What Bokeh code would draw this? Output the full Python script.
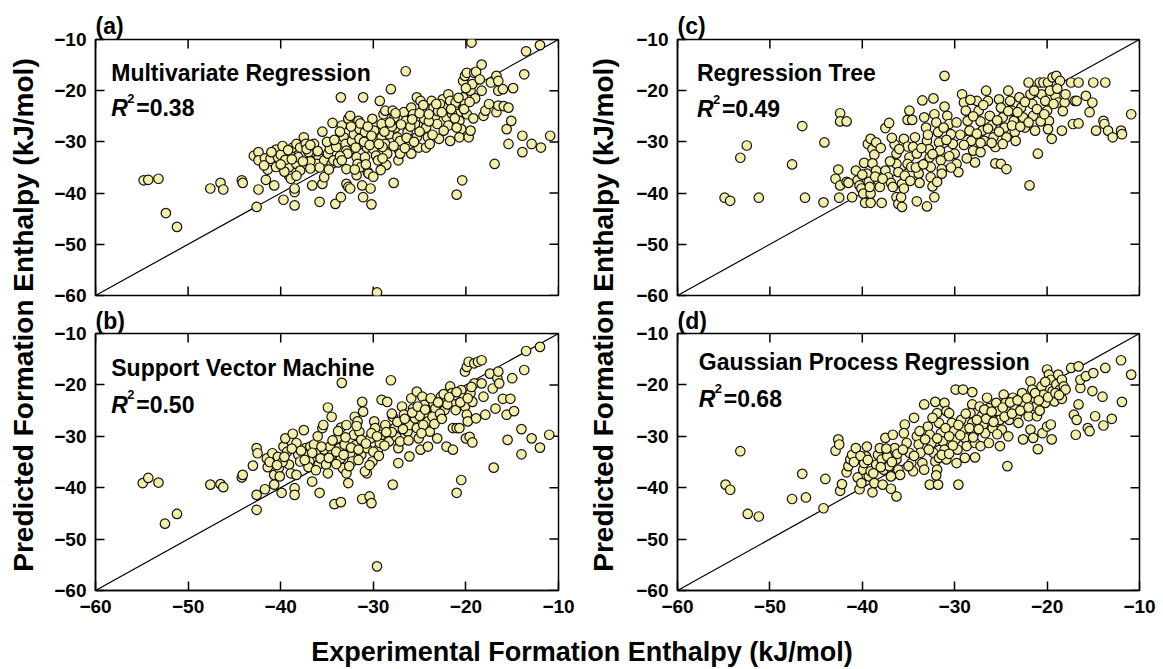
from math import pi
from bokeh.plotting import figure
from bokeh.models import Range1d, FixedTicker, Label
from bokeh.layouts import row, column
from bokeh.core.properties import value
from bokeh.embed import file_html
from bokeh.resources import INLINE

FONT = "Liberation Sans"

# ---------------- data (experimental, predicted) ----------------
ticks = [-60, -50, -40, -30, -20, -10]
diag = [-60, -10]

mr_points = [
    (-54.8,-37.5), (-54.3,-37.4), (-53.2,-37.2), (-52.4,-43.9), (-51.2,-46.6),
    (-47.6,-39.1), (-46.5,-38.0), (-46.2,-39.3), (-44.2,-37.5), (-44.1,-38.0),
    (-42.6,-42.7), (-42.9,-32.7), (-42.4,-32.0), (-42.4,-33.6), (-41.7,-33.2), (-41.1,-33.3),
    (-42.4,-39.3), (-41.6,-37.4), (-40.7,-38.5), (-41.4,-35.4), (-40.5,-34.9), (-40.3,-33.0),
    (-39.7,-41.3), (-39.1,-36.6), (-39.1,-34.9), (-38.9,-37.2), (-39.0,-32.0), (-38.7,-31.1), (-38.3,-30.4), (-37.9,-31.1),
    (-38.5,-42.4), (-38.5,-39.8), (-38.5,-39.1), (-38.3,-34.3), (-38.1,-33.0), (-37.5,-29.1), (-37.3,-30.4), (-37.9,-35.6), (-38.3,-36.6),
    (-36.6,-38.5), (-36.4,-32.0), (-35.9,-33.0), (-36.1,-34.3), (-36.4,-30.4), (-35.8,-41.7), (-35.5,-38.2), (-35.3,-36.9), (-35.5,-28.0),
    (-35.3,-33.6), (-34.9,-32.3), (-34.7,-31.4), (-34.5,-34.3), (-34.3,-33.6), (-34.4,-26.3), (-34.1,-42.1), (-33.5,-40.8), (-33.5,-21.3),
    (-33.4,-26.8), (-33.2,-29.1), (-33.0,-30.4), (-32.9,-31.7), (-32.8,-32.3), (-32.9,-38.2), (-32.7,-38.8), (-32.5,-39.1), (-32.7,-25.5), (-32.5,-24.9), (-32.9,-35.3),
    (-32.3,-29.8), (-32.1,-28.5), (-31.9,-31.1), (-31.8,-33.0), (-31.5,-27.5), (-31.5,-29.4), (-31.7,-34.3), (-31.3,-34.9), (-31.6,-25.9),
    (-31.1,-21.3), (-31.2,-38.5), (-31.1,-40.8), (-30.9,-28.1), (-30.7,-31.1), (-30.9,-33.0), (-30.6,-35.9), (-30.5,-36.2), (-30.3,-39.1), (-30.2,-42.2),
    (-30.1,-25.5), (-29.9,-27.8), (-29.8,-29.8), (-30.0,-31.4), (-29.7,-32.7), (-29.5,-33.6), (-29.6,-59.4), (-29.3,-22.0),
    (-29.1,-26.5), (-28.9,-24.6), (-28.7,-23.9), (-29.1,-29.1), (-28.7,-30.4), (-28.5,-32.3), (-28.3,-28.5), (-28.1,-19.7), (-27.8,-38.0),
    (-27.9,-23.9), (-27.7,-25.2), (-27.6,-27.2), (-27.4,-29.1), (-27.3,-31.4), (-27.3,-33.6), (-27.1,-32.3), (-27.1,-29.8),
    (-26.7,-24.2), (-26.5,-25.9), (-26.3,-28.1), (-26.1,-30.4), (-25.9,-32.3), (-26.5,-16.2),
    (-25.9,-23.3), (-25.7,-24.6), (-25.5,-26.5), (-25.3,-29.1), (-25.1,-31.1), (-25.3,-21.3), (-24.9,-22.0),
    (-24.7,-23.9), (-24.5,-25.5), (-24.3,-27.2), (-24.1,-29.1), (-24.3,-31.1), (-23.9,-30.4),
    (-23.7,-22.0), (-23.5,-23.3), (-23.3,-24.9), (-23.1,-26.5), (-22.9,-29.4),
    (-22.5,-21.7), (-22.3,-23.3), (-22.1,-25.2), (-21.9,-26.8), (-21.9,-20.7), (-21.7,-22.0), (-21.7,-29.8),
    (-21.3,-23.3), (-21.1,-22.3), (-20.9,-24.6), (-20.7,-25.9), (-20.5,-27.5), (-21.0,-40.3), (-20.4,-37.5), (-20.7,-29.1),
    (-20.3,-18.1), (-20.1,-17.1), (-19.9,-16.5), (-20.3,-21.3), (-20.1,-22.6), (-19.9,-24.6), (-19.7,-29.1), (-19.5,-27.8), (-19.4,-10.6),
    (-19.5,-20.0), (-19.3,-18.7), (-19.1,-16.5), (-18.9,-16.3), (-18.3,-14.9), (-18.5,-17.8), (-18.1,-24.9), (-17.9,-23.9), (-18.3,-20.0),
    (-17.3,-18.4), (-17.5,-22.6), (-16.9,-34.3), (-16.7,-17.1), (-16.5,-18.1), (-16.5,-20.0), (-16.7,-24.2), (-16.5,-22.9),
    (-16.0,-19.7), (-15.9,-23.0), (-15.6,-27.5), (-15.4,-30.4), (-15.4,-23.3), (-15.1,-25.9), (-14.9,-19.5),
    (-13.9,-28.8), (-13.9,-32.0), (-13.7,-16.8), (-13.5,-12.3), (-12.9,-30.4), (-12.0,-11.1), (-11.9,-31.1), (-10.9,-28.8),
    (-40.5,-31.5), (-40.0,-32.5), (-39.5,-33.5), (-37.0,-32.0), (-36.8,-33.8), (-34.0,-31.0), (-33.8,-34.0),
    (-31.0,-30.0), (-30.4,-30.6), (-29.0,-31.0), (-28.0,-27.0), (-26.0,-27.0), (-25.0,-28.0), (-24.0,-26.0),
    (-23.0,-24.0), (-22.8,-22.6), (-20.0,-19.5), (-19.0,-21.5), (-21.5,-24.5), (-28.6,-34.5), (-29.2,-35.5),
    (-30.0,-36.8), (-31.8,-36.5), (-33.6,-32.8), (-35.8,-35.0), (-37.6,-33.8), (-39.6,-35.8),
    (-41.0,-32.0), (-39.8,-30.8), (-39.2,-31.6), (-37.2,-31.4), (-36.8,-30.6), (-36.0,-31.8), (-35.0,-30.0),
    (-34.2,-29.6), (-33.6,-28.0), (-32.4,-27.0), (-31.4,-26.4), (-30.6,-27.0), (-30.2,-28.8), (-29.4,-30.4),
    (-28.8,-28.0), (-28.2,-26.2), (-27.6,-24.4), (-27.0,-26.6), (-26.4,-29.2), (-25.8,-25.6), (-25.0,-24.4),
    (-24.6,-22.8), (-24.0,-24.6), (-23.2,-22.6), (-22.6,-24.2), (-21.6,-23.6), (-21.2,-25.4), (-20.8,-21.4),
    (-20.2,-23.6), (-19.6,-22.2), (-30.8,-34.4), (-32.0,-35.4), (-33.4,-33.6), (-34.8,-35.4), (-36.8,-35.2),
    (-38.8,-33.4), (-40.0,-34.4), (-41.8,-34.6), (-29.0,-33.2), (-27.8,-30.8), (-26.6,-31.2), (-25.6,-30.0),
    (-22.4,-27.8), (-23.6,-28.6), (-21.0,-27.2), (-19.2,-25.4),
]

svm_points = [
    (-54.9,-39.1), (-54.3,-38.1), (-53.2,-39.0), (-52.5,-47.0), (-51.2,-45.1), (-47.6,-39.4), (-46.5,-39.3), (-46.2,-39.9),
    (-44.2,-38.0), (-44.1,-37.5), (-43.0,-35.7), (-42.6,-32.3), (-42.5,-33.3), (-42.6,-41.4), (-42.6,-44.3), (-41.7,-40.3),
    (-41.5,-34.3), (-41.4,-36.0), (-40.9,-33.3), (-40.7,-37.5), (-40.7,-39.4), (-40.3,-34.0), (-40.2,-36.2), (-40.1,-37.8),
    (-39.9,-41.0), (-39.7,-32.0), (-39.5,-30.4), (-39.3,-33.0), (-39.1,-35.5), (-38.9,-37.2), (-38.7,-29.5), (-38.5,-40.1),
    (-38.5,-41.4), (-38.3,-37.5), (-38.3,-31.3), (-38.1,-33.6), (-37.9,-34.9), (-37.5,-28.8), (-37.3,-32.3), (-37.1,-33.6),
    (-36.9,-34.9), (-36.8,-32.0), (-36.6,-38.8), (-36.4,-31.6), (-36.1,-33.3), (-35.9,-35.5), (-35.7,-34.3), (-35.8,-41.0),
    (-35.5,-28.4), (-35.4,-27.8), (-35.3,-32.6), (-35.1,-35.5), (-34.9,-37.2), (-34.7,-32.0), (-34.5,-33.6), (-34.9,-24.4),
    (-34.5,-26.2), (-34.2,-43.2), (-33.5,-42.8), (-33.9,-30.4), (-33.7,-32.3), (-33.5,-34.3), (-33.3,-36.2), (-33.1,-31.6),
    (-33.4,-19.6), (-33.5,-28.3), (-32.9,-27.8), (-32.9,-37.2), (-32.7,-39.1), (-32.5,-33.3), (-32.3,-34.9), (-32.1,-29.7),
    (-31.9,-31.7), (-32.0,-26.2), (-31.7,-27.1), (-31.5,-29.1), (-31.3,-33.6), (-31.3,-30.7), (-31.2,-23.3), (-31.1,-25.2),
    (-31.2,-42.2), (-30.7,-37.2), (-30.9,-36.8), (-30.4,-41.7), (-30.2,-43.0), (-30.7,-32.3), (-30.3,-30.4), (-30.1,-34.9),
    (-29.9,-27.1), (-29.8,-28.4), (-29.6,-55.3), (-29.5,-32.6), (-29.3,-31.3), (-29.1,-22.9), (-29.1,-29.7), (-28.7,-27.8),
    (-28.5,-23.3), (-28.3,-31.0), (-28.1,-19.1), (-27.9,-39.4), (-27.9,-26.2), (-27.7,-28.4), (-27.5,-30.1), (-27.3,-32.3),
    (-27.3,-35.2), (-27.1,-31.0), (-26.9,-24.2), (-26.7,-25.8), (-26.5,-27.1), (-26.3,-29.1), (-26.1,-27.8), (-26.1,-33.9),
    (-25.9,-22.6), (-25.7,-24.6), (-25.5,-26.5), (-25.3,-28.4), (-25.1,-30.4), (-24.9,-32.6), (-25.3,-21.3), (-24.7,-22.3),
    (-24.5,-23.9), (-24.3,-25.5), (-24.1,-27.1), (-23.9,-29.1), (-24.1,-32.0), (-23.5,-23.6), (-23.3,-24.6), (-23.1,-30.4),
    (-22.7,-22.3), (-22.5,-23.6), (-22.3,-24.9), (-22.1,-22.6), (-22.1,-32.0), (-21.4,-32.6), (-21.7,-20.3), (-21.5,-21.6),
    (-21.3,-23.3), (-21.1,-24.9), (-21.4,-28.4), (-21.0,-28.4), (-20.7,-28.4), (-21.0,-41.0), (-20.5,-38.5), (-20.5,-21.0),
    (-20.3,-22.6), (-20.1,-24.2), (-19.9,-25.8), (-19.8,-27.1), (-20.1,-17.4), (-19.9,-16.5), (-19.7,-15.5), (-20.0,-30.4),
    (-19.6,-30.1), (-19.3,-31.2), (-19.5,-21.6), (-19.3,-23.3), (-19.1,-19.7), (-19.1,-15.8), (-18.7,-15.5), (-18.3,-15.2),
    (-18.9,-26.5), (-18.3,-19.7), (-18.1,-22.3), (-17.9,-25.8), (-17.4,-17.8), (-17.0,-36.1), (-17.1,-20.7), (-16.8,-24.6),
    (-16.6,-18.7), (-16.5,-17.4), (-16.4,-19.7), (-15.5,-30.7), (-15.6,-25.8), (-16.0,-22.7), (-15.2,-22.7), (-15.0,-18.7),
    (-14.8,-25.1), (-14.0,-28.6), (-14.0,-33.5), (-13.7,-17.1), (-13.5,-13.4), (-12.9,-30.4), (-12.0,-12.6), (-12.0,-32.2),
    (-11.0,-29.7),
    (-39.8,-35.0), (-37.0,-36.0), (-36.2,-36.6), (-34.0,-35.4), (-32.6,-35.8), (-31.6,-34.6), (-30.0,-33.0), (-28.8,-31.8),
    (-28.0,-29.2), (-26.8,-28.6), (-25.0,-26.0), (-24.6,-27.8), (-23.6,-26.2), (-22.8,-25.6), (-22.0,-23.8), (-21.2,-22.0),
    (-33.0,-30.2), (-34.4,-30.8), (-36.0,-30.0),
    (-41.2,-35.0), (-40.4,-35.6), (-39.6,-34.0), (-38.8,-32.4), (-37.8,-32.8), (-37.4,-34.6), (-36.6,-33.2), (-35.6,-32.0),
    (-34.8,-34.2), (-34.0,-33.0), (-33.2,-33.6), (-32.4,-32.2), (-31.6,-32.6), (-30.8,-31.4), (-30.2,-29.4), (-29.6,-30.0),
    (-28.6,-29.2), (-28.0,-25.6), (-27.4,-27.2), (-26.6,-26.6), (-25.8,-25.4), (-25.2,-24.2), (-24.4,-24.8), (-23.8,-22.6),
    (-23.0,-23.4), (-22.4,-21.8), (-21.8,-22.4), (-21.0,-21.4), (-20.6,-23.4), (-19.8,-22.6), (-19.4,-20.4), (-30.4,-35.6),
    (-29.4,-33.8), (-31.8,-28.0), (-33.8,-29.0), (-26.2,-30.8), (-24.8,-29.4), (-23.4,-27.6), (-22.6,-26.6),
]

rt_points = [
    (-54.9,-40.9), (-54.3,-41.5), (-53.2,-33.1), (-52.5,-30.7), (-51.2,-40.9), (-47.6,-34.4), (-46.5,-26.9), (-46.2,-40.9),
    (-44.2,-41.8), (-44.1,-30.1), (-42.9,-37.2), (-42.6,-35.4), (-42.5,-40.9), (-42.4,-24.4), (-42.4,-26.0), (-41.7,-26.0),
    (-42.4,-38.5), (-41.7,-37.8), (-41.5,-38.0), (-41.1,-40.8), (-40.7,-35.6), (-40.5,-37.5), (-40.3,-38.5), (-40.1,-39.1),
    (-39.9,-40.1), (-39.7,-41.9), (-39.1,-41.9), (-37.9,-41.9), (-39.8,-34.1), (-39.5,-36.2), (-39.3,-37.8), (-39.1,-40.1),
    (-39.4,-30.4), (-39.1,-29.4), (-38.9,-31.4), (-38.5,-30.1), (-38.7,-32.5), (-38.9,-34.2), (-38.5,-35.6), (-38.3,-37.5),
    (-38.1,-38.8), (-38.0,-31.2), (-37.5,-27.3), (-37.1,-26.3), (-37.5,-35.6), (-37.2,-36.9), (-36.9,-38.0), (-36.7,-38.8),
    (-36.5,-30.5), (-36.3,-32.3), (-36.3,-34.3), (-36.1,-35.9), (-36.3,-40.8), (-36.1,-42.1), (-35.8,-40.8), (-35.7,-42.7),
    (-35.7,-38.2), (-35.5,-39.1), (-35.5,-29.4), (-35.1,-30.9), (-34.9,-33.0), (-35.1,-34.3), (-34.7,-34.9), (-35.1,-25.7),
    (-34.9,-23.9), (-34.6,-25.7), (-34.5,-31.0), (-34.3,-29.1), (-34.1,-32.3), (-33.9,-36.2), (-33.8,-38.0), (-34.1,-41.6),
    (-33.5,-21.9), (-33.3,-25.2), (-33.1,-27.2), (-33.0,-29.8), (-33.0,-42.6), (-32.8,-31.4), (-32.7,-33.0), (-32.6,-34.9),
    (-32.6,-36.9), (-32.4,-38.7), (-32.3,-21.5), (-32.2,-40.8), (-32.2,-24.6), (-32.0,-26.2), (-31.8,-28.1), (-31.7,-30.1),
    (-31.6,-31.7), (-31.5,-33.6), (-31.4,-35.3), (-31.4,-36.2), (-31.1,-17.1), (-31.1,-23.1), (-30.8,-24.9), (-30.6,-26.5),
    (-30.4,-28.5), (-30.2,-30.4), (-30.0,-32.3), (-29.8,-34.3), (-29.6,-35.9), (-29.2,-20.7), (-29.0,-22.3), (-28.8,-23.9),
    (-28.6,-25.9), (-28.4,-27.8), (-28.2,-29.8), (-28.0,-31.7), (-27.8,-34.0), (-27.6,-22.0), (-27.4,-23.9), (-27.2,-26.0),
    (-27.0,-27.8), (-26.8,-29.8), (-27.2,-32.0), (-26.6,-20.0), (-26.4,-22.0), (-26.2,-24.9), (-26.0,-26.8), (-25.8,-29.1),
    (-25.6,-31.0), (-25.6,-34.2), (-25.0,-34.3), (-24.4,-35.3), (-25.2,-21.7), (-25.0,-23.3), (-24.8,-25.2), (-24.6,-27.2),
    (-24.4,-29.1), (-24.2,-20.0), (-24.0,-22.0), (-23.8,-23.9), (-23.6,-25.9), (-23.5,-28.1), (-23.4,-29.8), (-23.0,-21.3),
    (-22.8,-23.3), (-22.6,-25.2), (-22.4,-27.2), (-22.0,-18.4), (-21.8,-20.7), (-21.6,-22.6), (-21.5,-24.9), (-21.3,-27.8),
    (-21.9,-38.5), (-21.0,-32.3), (-20.8,-18.4), (-20.4,-18.4), (-19.9,-18.4), (-19.4,-17.4), (-19.0,-17.1), (-18.6,-18.1),
    (-20.6,-20.7), (-20.2,-22.0), (-20.0,-23.9), (-19.8,-25.9), (-19.9,-27.5), (-19.5,-29.4), (-19.1,-21.0), (-18.8,-22.3),
    (-18.4,-27.8), (-18.1,-22.3), (-18.0,-20.7), (-17.4,-18.4), (-16.6,-18.4), (-17.2,-26.5), (-16.6,-26.4), (-17.0,-22.0),
    (-16.8,-22.0), (-15.8,-21.0), (-15.4,-24.2), (-15.1,-22.3), (-15.0,-18.4), (-14.7,-27.8), (-13.9,-25.9), (-13.8,-26.5),
    (-13.4,-27.8), (-12.9,-29.1), (-12.0,-27.8), (-11.9,-28.5), (-13.7,-18.4), (-10.9,-24.6),
    (-40.0,-36.4), (-39.2,-38.8), (-38.6,-36.8), (-37.8,-37.2), (-37.0,-33.8), (-36.8,-29.2), (-36.0,-31.4), (-35.4,-36.6),
    (-34.8,-37.6), (-34.2,-35.0), (-33.6,-31.2), (-33.4,-34.4), (-32.9,-28.6), (-32.4,-32.4), (-31.9,-37.8), (-31.2,-27.2),
    (-30.9,-29.6), (-30.6,-32.8), (-30.4,-35.0), (-29.8,-26.2), (-29.4,-28.6), (-29.0,-30.6), (-28.7,-33.2), (-28.3,-21.8),
    (-28.0,-25.0), (-27.6,-28.4), (-27.2,-30.2), (-26.9,-22.8), (-26.4,-27.4), (-26.0,-30.2), (-25.4,-25.8), (-25.2,-28.0),
    (-24.8,-30.4), (-24.2,-24.0), (-23.8,-26.8), (-23.2,-24.2), (-22.9,-27.0), (-22.4,-22.2), (-22.0,-26.2), (-21.4,-20.0),
    (-21.1,-23.6), (-20.7,-26.0), (-20.3,-24.6), (-19.7,-20.0), (-19.3,-22.6), (-18.9,-19.6), (-18.3,-24.0),
]

gpr_points = [
    (-54.8,-39.4), (-54.3,-40.4), (-53.2,-32.9), (-52.4,-45.1), (-51.2,-45.6), (-47.6,-42.2), (-46.5,-37.3), (-46.1,-41.9),
    (-44.2,-44.0), (-44.0,-38.3), (-42.9,-32.8), (-42.6,-30.6), (-42.5,-31.6), (-42.4,-40.6), (-42.2,-39.3), (-41.7,-37.0),
    (-41.5,-35.8), (-41.3,-34.5), (-41.1,-33.6), (-40.7,-32.3), (-40.5,-38.0), (-40.3,-40.3), (-40.1,-39.1), (-39.9,-36.5),
    (-39.8,-35.2), (-39.6,-33.9), (-39.5,-32.0), (-39.3,-37.8), (-39.1,-36.8), (-38.9,-40.9), (-38.7,-39.1), (-38.5,-35.5),
    (-38.3,-33.6), (-38.1,-32.3), (-37.9,-34.5), (-37.7,-36.5), (-37.8,-39.4), (-37.5,-30.3), (-37.3,-33.9), (-37.1,-35.8),
    (-36.9,-37.8), (-36.9,-40.2), (-36.3,-41.7), (-36.7,-29.7), (-36.5,-32.3), (-36.3,-34.5), (-36.1,-36.5), (-35.9,-37.5),
    (-35.4,-27.7), (-35.5,-29.4), (-35.2,-31.3), (-34.9,-33.2), (-34.7,-35.2), (-34.5,-36.8), (-34.4,-26.4), (-34.1,-30.0),
    (-33.9,-31.6), (-33.7,-33.2), (-33.5,-35.2), (-33.3,-36.5), (-33.3,-23.8), (-32.9,-28.1), (-32.7,-29.7), (-32.5,-31.3),
    (-32.3,-33.2), (-32.1,-34.9), (-31.9,-36.5), (-31.7,-34.2), (-32.7,-39.4), (-31.8,-39.4), (-32.1,-23.3), (-31.9,-25.5),
    (-31.7,-27.4), (-31.5,-29.4), (-31.3,-31.0), (-31.1,-32.6), (-30.9,-34.5), (-31.1,-23.5), (-30.9,-25.1), (-30.6,-25.5),
    (-30.3,-27.4), (-30.1,-29.0), (-29.9,-30.6), (-29.7,-32.6), (-29.8,-35.2), (-29.9,-20.9), (-29.1,-20.9), (-29.6,-39.4),
    (-29.3,-26.8), (-29.1,-28.7), (-28.9,-30.3), (-28.7,-31.9), (-28.9,-34.2), (-28.1,-21.4), (-28.1,-23.8), (-28.3,-25.5),
    (-28.1,-27.4), (-27.9,-29.4), (-27.8,-31.3), (-27.8,-34.1), (-27.3,-24.2), (-27.1,-26.1), (-26.9,-27.7), (-26.7,-29.4),
    (-27.2,-31.9), (-26.5,-22.5), (-26.3,-24.5), (-26.1,-26.4), (-25.9,-28.4), (-26.3,-31.3), (-25.5,-23.5), (-25.3,-25.1),
    (-25.1,-26.8), (-24.9,-28.7), (-25.1,-31.9), (-24.7,-21.9), (-24.5,-23.5), (-24.3,-25.1), (-24.1,-26.8), (-24.2,-30.0),
    (-24.3,-35.8), (-23.7,-22.5), (-23.5,-24.5), (-23.3,-26.1), (-23.1,-27.4), (-22.7,-21.6), (-22.5,-23.5), (-22.6,-30.6),
    (-22.0,-26.1), (-21.8,-19.3), (-21.6,-20.9), (-21.4,-22.5), (-21.2,-24.2), (-21.1,-26.1), (-21.8,-28.7), (-21.5,-30.3),
    (-21.0,-32.5), (-20.6,-20.3), (-20.4,-21.9), (-20.2,-23.5), (-20.5,-29.4), (-20.0,-28.1), (-20.0,-17.0), (-19.8,-18.0),
    (-19.6,-19.0), (-19.4,-21.2), (-19.6,-27.7), (-19.5,-30.6), (-19.2,-23.2), (-19.0,-19.9), (-18.8,-18.0), (-18.6,-20.9),
    (-18.4,-19.0), (-18.2,-20.3), (-18.0,-20.9), (-18.4,-22.7), (-17.4,-16.7), (-16.6,-16.4), (-17.1,-25.8), (-16.8,-26.8),
    (-16.9,-29.7), (-16.6,-23.8), (-16.4,-20.6), (-16.4,-19.0), (-15.8,-18.3), (-15.6,-28.4), (-15.4,-29.0), (-15.0,-17.7),
    (-15.1,-21.2), (-14.8,-26.1), (-14.0,-22.3), (-13.9,-27.9), (-13.7,-16.7), (-13.0,-26.6), (-12.0,-15.2), (-11.9,-23.3),
    (-10.9,-18.0),
    (-40.9,-35.0), (-40.2,-33.8), (-39.4,-34.6), (-38.8,-37.2), (-38.0,-36.0), (-37.4,-32.4), (-36.8,-35.0), (-36.2,-33.4),
    (-35.6,-32.6), (-35.0,-35.8), (-34.4,-33.8), (-33.8,-29.0), (-33.2,-30.6), (-32.8,-32.6), (-32.4,-26.4), (-31.9,-30.4),
    (-31.4,-33.6), (-31.0,-28.4), (-30.6,-30.0), (-30.2,-31.8), (-29.6,-27.8), (-29.4,-29.8), (-28.8,-25.6), (-28.4,-28.4),
    (-28.0,-30.2), (-27.6,-26.8), (-27.4,-28.6), (-26.8,-24.8), (-26.6,-26.6), (-26.0,-25.2), (-25.8,-27.2), (-25.4,-29.6),
    (-24.8,-24.4), (-24.6,-26.2), (-24.0,-23.4), (-23.8,-25.6), (-23.2,-23.0), (-22.9,-25.0), (-22.2,-22.6), (-22.0,-24.4),
    (-21.3,-21.6), (-20.9,-23.0), (-20.8,-25.0), (-20.2,-19.4), (-19.9,-22.4), (-19.1,-21.6), (-18.7,-22.0), (-30.6,-33.4),
    (-32.0,-37.6),
]

panel_tags = ["(a)", "(b)", "(c)", "(d)"]
panel_names = ["Multivariate Regression", "Support Vector Machine", "Regression Tree", "Gaussian Process Regression"]
panel_r2 = ["=0.38", "=0.50", "=0.49", "=0.68"]

x_label = "Experimental Formation Enthalpy (kJ/mol)"
y_label = "Predicted Formation Enthalpy (kJ/mol)"

FILL = "#f3efa8"
TICK_LEN = 9


def style_axis(ax):
    ax.ticker = FixedTicker(ticks=ticks)
    ax.major_tick_in = TICK_LEN
    ax.major_tick_out = 0
    ax.minor_tick_in = 0
    ax.minor_tick_out = 0
    ax.axis_line_color = "black"
    ax.axis_line_width = 1.5
    ax.major_tick_line_color = "black"
    ax.major_tick_line_width = 1.5
    ax.major_label_text_font = FONT
    ax.major_label_text_font_style = "bold"
    ax.major_label_text_color = "black"
    ax.major_label_text_font_size = "19px"
    ax.major_label_standoff = 9


def make_panel(points, tag, name, r2, bottom_labels, w, h, bl, br, bt, bb, nx, ny, ry, tag_standoff):
    p = figure(width=w, height=h, x_range=Range1d(-60, -10), y_range=Range1d(-60, -10),
               output_backend="svg", toolbar_location=None, tools="",
               x_axis_location="below" if bottom_labels else None,
               min_border_left=bl, min_border_right=br, min_border_top=bt, min_border_bottom=bb)
    p.grid.visible = False
    p.outline_line_color = "black"
    p.outline_line_width = 1.5
    p.background_fill_color = "white"
    p.border_fill_color = "white"
    if bottom_labels:
        style_axis(p.xaxis[0])
    style_axis(p.yaxis[0])

    # panel tag as title
    p.title.text = tag
    p.title.align = "left"
    p.title.standoff = tag_standoff
    p.title.offset = 0
    p.title.text_font = FONT
    p.title.text_font_style = "bold"
    p.title.text_font_size = "23px"
    p.title.text_color = "black"

    n = len(ticks)
    lo, hi = ticks[0], ticks[-1]
    # inward ticks on the unlabeled sides (top, right, and bottom where unlabeled)
    tick_kw = dict(length=TICK_LEN, length_units="screen", line_color="black", line_width=1.5)
    p.ray(x=ticks, y=[hi] * n, angle=-pi / 2, **tick_kw)
    p.ray(x=[hi] * n, y=ticks, angle=pi, **tick_kw)
    if not bottom_labels:
        p.ray(x=ticks, y=[lo] * n, angle=pi / 2, **tick_kw)

    xs = [q[0] for q in points]
    ys = [q[1] for q in points]
    p.line(diag, diag, line_color="black", line_width=1.2)
    p.scatter(xs, ys, marker="circle", size=9.5, fill_color=FILL, line_color="#111111", line_width=1.2)

    common = dict(text_font=FONT, text_color="black", text_font_style="bold")
    p.add_layout(Label(x=nx, y=ny, text=name, text_baseline="middle", text_font_size="23px", **common))
    p.add_layout(Label(x=nx, y=ry, text="R", text_baseline="middle", text_font_size="23px",
                       text_font=FONT, text_color="black", text_font_style="bold italic"))
    p.add_layout(Label(x=nx, y=ry, x_offset=16, y_offset=10, text="2", text_baseline="middle",
                       text_font_size="13px", **common))
    p.add_layout(Label(x=nx, y=ry, x_offset=25, text=r2, text_baseline="middle",
                       text_font_size="23px", **common))
    return p


fa = make_panel(mr_points, panel_tags[0], panel_names[0], panel_r2[0], False, 535, 306, 50, 22, 39, 11, -58.3, -16.5, -23.4, 2)
fb = make_panel(svm_points, panel_tags[1], panel_names[1], panel_r2[1], True, 535, 323, 50, 22, 27, 39, -58.3, -16.8, -23.9, -1)
fc = make_panel(rt_points, panel_tags[2], panel_names[2], panel_r2[2], False, 538, 306, 52, 24, 39, 11, -57.9, -16.5, -23.6, 2)
fd = make_panel(gpr_points, panel_tags[3], panel_names[3], panel_r2[3], True, 538, 323, 52, 24, 27, 39, -57.7, -15.6, -22.7, -1)


def label_fig(w, h, text, angle, ypos, size):
    f = figure(width=w, height=h, x_range=Range1d(0, 1), y_range=Range1d(0, 1),
               output_backend="svg", toolbar_location=None, tools="", min_border=0,
               x_axis_location=None, y_axis_location=None)
    f.outline_line_color = None
    f.grid.visible = False
    f.text(x=[0.5], y=[ypos], text=[text], angle=angle, text_align="center", text_baseline="middle",
           text_font=value(FONT), text_font_style="bold", text_font_size=size, text_color="black")
    return f


ylab_l = label_fig(45, 629, y_label, pi / 2, 0.5, "28px")
ylab_r = label_fig(45, 629, y_label, pi / 2, 0.5, "28px")
xlab = label_fig(1163, 40, x_label, 0, 0.45, "27px")

layout = column(row(ylab_l, column(fa, fb), ylab_r, column(fc, fd)), xlab)

open("out.html", "w").write(file_html(layout, INLINE))
